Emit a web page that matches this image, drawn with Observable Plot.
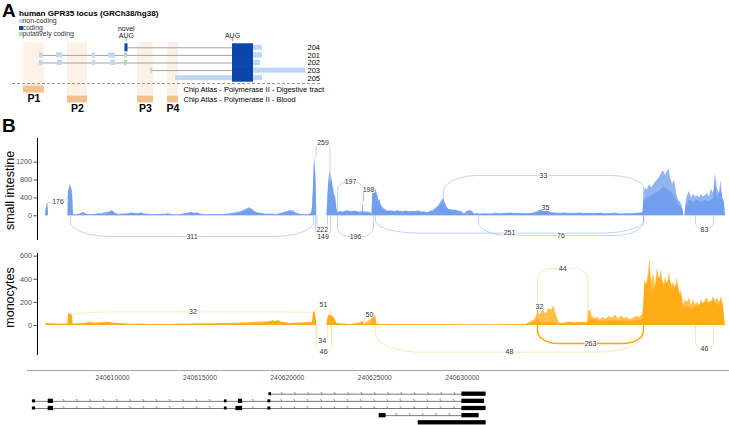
<!DOCTYPE html>
<html><head><meta charset="utf-8">
<script src="https://cdn.jsdelivr.net/npm/d3@7"></script>
<script src="https://cdn.jsdelivr.net/npm/@observablehq/plot@0.6"></script>
<style>
body{margin:0;background:#fff;font-family:"Liberation Sans",Arial,sans-serif;}
#chart{position:relative;width:729px;height:425px;overflow:hidden;background:#fff;}
#chart svg{position:absolute;left:0;top:0;font-family:"Liberation Sans",Arial,sans-serif;}
.ov{position:absolute;white-space:nowrap;line-height:1;color:#000;}
</style></head><body><div id="chart"></div>
<script>
// ---------------- Panel A data (schematic locus units) ----------------
const panelTitle = "human GPR35 locus (GRCh38/hg38)";
const legendKinds = ["non-coding", "coding", "putatively coding"];
const txIds = ["204", "201", "202", "203", "205"];
const txExons = [
  {tx:"204", start:124.5, end:127.5, kind:"coding"},
  {tx:"204", start:232, end:253, kind:"coding"},
  {tx:"204", start:253, end:262, kind:"noncoding"},
  {tx:"201", start:39, end:42.5, kind:"noncoding"},
  {tx:"201", start:56, end:62, kind:"noncoding"},
  {tx:"201", start:92, end:95, kind:"noncoding"},
  {tx:"201", start:108, end:115, kind:"noncoding"},
  {tx:"201", start:124, end:127, kind:"putative"},
  {tx:"201", start:232, end:253, kind:"coding"},
  {tx:"201", start:253, end:262, kind:"noncoding"},
  {tx:"202", start:39, end:42.5, kind:"noncoding"},
  {tx:"202", start:57, end:62, kind:"noncoding"},
  {tx:"202", start:92, end:95, kind:"noncoding"},
  {tx:"202", start:110, end:115, kind:"noncoding"},
  {tx:"202", start:124, end:127, kind:"putative"},
  {tx:"202", start:232, end:253, kind:"coding"},
  {tx:"202", start:253, end:260, kind:"noncoding"},
  {tx:"203", start:150, end:152.5, kind:"noncoding"},
  {tx:"203", start:232, end:253, kind:"coding"},
  {tx:"203", start:253, end:305, kind:"noncoding"},
  {tx:"205", start:175, end:232, kind:"noncoding"},
  {tx:"205", start:232, end:253, kind:"coding"},
  {tx:"205", start:253, end:262, kind:"noncoding"}
];
const augSites = [{label:"novel\nAUG", pos:125.8, kind:"novel"}, {label:"AUG", pos:232, kind:"annotated"}];
const chipTracks = ["Digestive tract", "Blood"];
const promoters = [
  {name:"P1", start:23, end:44, track:"Digestive tract"},
  {name:"P2", start:67, end:87, track:"Blood"},
  {name:"P3", start:137, end:153, track:"Blood"},
  {name:"P4", start:167, end:178, track:"Blood"}
];

// ---------------- Panel B data ----------------
const regionStart = 240605500, binSize = 40;   // coverage bins of 40 bp
const siRep1 = [[0,0],[0.5,150],[1.5,250],[2.5,280],[3,0],[22.5,0],[23,550],[24,650],[25,700],[26,620],[27,560],[27.5,300],[28,30],[31,20],[35,40],[38,80],[40,40],[45,20],[50,30],[54,50],[57,20],[62,40],[67,120],[69,60],[73,30],[77,40],[81,30],[86,70],[89,50],[92,30],[96,70],[99,40],[105,30],[110,20],[115,30],[120,20],[123,50],[126,20],[131,20],[137,30],[143,60],[146,80],[149,50],[152,70],[155,30],[161,20],[165,30],[171,20],[177,30],[183,40],[189,60],[195,90],[198,120],[201,150],[204,180],[207,140],[210,90],[213,60],[217,50],[221,30],[225,40],[231,30],[237,60],[241,90],[245,120],[248,110],[251,60],[255,30],[260,20],[264,30],[266,50],[267,200],[268,700],[269,1300],[270,1100],[270.8,800],[271.3,0],[281.5,0],[282,300],[283,700],[284,950],[285,1000],[286,800],[286.5,900],[287,600],[288,700],[289,400],[290,500],[291,200],[292,80],[295,100],[298,80],[301,120],[304,100],[307,90],[310,110],[313,80],[315,70],[317,100],[317.5,330],[318,100],[320,80],[323,90],[325,70],[326.5,50],[327.5,600],[328.5,650],[329.5,560],[330.5,620],[331.5,500],[332.5,450],[333.5,300],[334.5,380],[335.5,250],[337,200],[339,150],[341,130],[343,100],[346,110],[349,90],[352,120],[355,100],[358,90],[361,110],[364,80],[367,100],[370,90],[373,110],[376,80],[379,90],[382,70],[385,100],[388,120],[391,180],[394,250],[396,330],[398,390],[400,280],[402,180],[404,130],[407,120],[410,130],[413,110],[416,100],[419,40],[421,90],[424,120],[427,100],[429,40],[432,50],[435,40],[440,50],[445,40],[450,60],[455,40],[460,50],[465,60],[470,40],[475,50],[480,40],[485,50],[490,40],[493,60],[496,120],[498,180],[500,120],[503,90],[506,70],[510,50],[515,40],[520,60],[525,40],[530,50],[535,60],[540,40],[545,50],[550,40],[555,60],[560,40],[565,50],[570,60],[575,40],[580,50],[585,40],[590,50],[595,60],[597.5,80],[598.5,500],[600,620],[602,580],[604,700],[606,620],[608,680],[610,750],[612,800],[614,850],[616,950],[618,1010],[620,900],[622,1000],[623.5,1040],[625,850],[627,700],[629,800],[631,500],[633,350],[635,300],[637,200],[638.5,0],[639.5,0],[640.5,300],[642,450],[644,550],[646,400],[648,480],[650,420],[652,450],[654,400],[656,480],[658,420],[660,460],[662,500],[664,420],[666,600],[668,500],[670,940],[672,600],[674,500],[675.5,800],[677,400],[679,300],[680,0]];
const siRep2 = [[0,0],[1,150],[2.5,200],[3,0],[22.5,0],[23,450],[24,600],[25,650],[26,550],[27,450],[28,20],[35,30],[38,60],[43,20],[54,40],[67,100],[73,20],[86,50],[96,50],[105,20],[123,40],[131,15],[146,60],[152,50],[161,15],[183,30],[195,70],[201,120],[204,150],[210,70],[217,40],[231,20],[241,70],[245,100],[251,40],[260,15],[266,40],[267,150],[268,600],[269,1200],[270,900],[271,0],[281.5,0],[282,200],[283,600],[284,850],[285,700],[286.5,800],[288,550],[290,400],[292,60],[301,90],[310,90],[317,80],[317.5,300],[318,80],[326.5,40],[327.5,550],[328.5,600],[330.5,560],[332.5,380],[334.5,300],[337,150],[341,100],[352,90],[361,90],[373,90],[382,60],[388,100],[394,200],[398,330],[402,150],[410,110],[419,30],[424,100],[429,30],[445,30],[465,50],[485,40],[498,150],[506,60],[535,50],[555,50],[575,30],[595,50],[597.5,60],[598.5,350],[602,400],[606,450],[610,500],[614,550],[618,650],[622,600],[625,550],[629,450],[633,250],[637,150],[638.5,0],[639.5,0],[640.5,200],[644,350],[648,300],[652,350],[656,300],[660,350],[664,300],[668,400],[670,700],[672,400],[675.5,600],[679,200],[680,0]];
const monoRep1 = [[0,0],[0.5,12],[2,22],[4,10],[10,12],[15,10],[20,12],[22.5,15],[23,100],[24,110],[25,95],[26,105],[27,80],[27.5,10],[31,12],[35,15],[40,20],[43,25],[46,30],[49,15],[55,18],[60,25],[63,30],[67,20],[71,15],[75,12],[85,10],[95,12],[105,8],[115,10],[125,8],[135,12],[145,10],[155,15],[165,12],[175,15],[180,20],[185,15],[195,12],[205,15],[215,20],[223,25],[228,45],[230,30],[233,45],[236,25],[240,20],[245,18],[250,20],[255,22],[260,20],[265,25],[267,30],[268,110],[269,130],[270,100],[270.8,60],[271.3,0],[281.5,0],[282,50],[283,80],[284,95],[285,85],[286,90],[287,70],[288,85],[289,60],[290,50],[291,20],[295,10],[300,12],[305,8],[310,10],[315,12],[317.5,40],[318.5,10],[323,8],[326,10],[327.5,80],[328.5,87],[329.5,85],[330.5,70],[331.5,10],[335,8],[345,10],[355,6],[365,8],[375,6],[385,8],[395,6],[405,8],[415,5],[425,6],[435,5],[445,6],[455,5],[465,6],[475,8],[481,10],[485,30],[488,45],[490,60],[491.5,100],[492.5,130],[494,90],[496,110],[498,140],[500,100],[502,120],[504,150],[506,130],[508,170],[510,120],[512,60],[514,20],[517,15],[521,25],[525,30],[529,20],[533,25],[537,30],[540,20],[542,30],[543,120],[545,130],[547,80],[549,60],[552,70],[555,50],[558,70],[561,55],[564,80],[567,60],[570,90],[573,55],[576,80],[579,60],[582,70],[585,50],[588,60],[591,80],[594,70],[597,90],[598,150],[599.5,400],[601,350],[603,450],[604.5,577],[606,380],[608,450],[610,350],[612,500],[614,400],[616,480],[618,330],[620,420],[622,350],[624,470],[626,300],[628,380],[630,320],[632,420],[634,260],[636,300],[638,180],[640,220],[642,200],[644,240],[646,170],[648,220],[650,180],[652,200],[654,160],[656,230],[658,180],[660,220],[662,240],[664,180],[666,200],[668,250],[670,210],[672,240],[674,200],[676,250],[678,180],[679.5,30],[680,0]];
const monoRep2 = [[0,0],[0.5,8],[2,18],[10,10],[22.5,10],[23,90],[25,90],[27,70],[27.5,8],[43,20],[63,25],[85,8],[125,6],[180,15],[228,35],[233,35],[245,15],[267,25],[268,100],[269,120],[270.8,50],[271.3,0],[281.5,0],[282,40],[284,85],[286,80],[288,70],[290,40],[291,15],[305,6],[317.5,30],[318.5,8],[327.5,70],[329.5,80],[331.5,8],[375,5],[455,4],[481,8],[490,30],[492,60],[495,30],[500,20],[505,30],[512,15],[525,20],[542,25],[545,60],[555,35],[570,40],[585,35],[597,50],[598,120],[599.5,350],[603,380],[604.5,500],[606,300],[610,320],[612,420],[616,400],[620,350],[624,400],[628,320],[632,350],[636,250],[638,150],[642,170],[646,140],[650,160],[656,190],[662,200],[668,210],[674,170],[676,210],[678,150],[679.5,20],[680,0]];

// splice junctions: genomic start/end, read count, apex value, attachment values
const siJunctions = [
  {start:240605580, end:240606420, count:176, peak:310, y0s:280, y0e:550},
  {start:240606500, end:240616220, count:311, peak:-463},
  {start:240616320, end:240616880, count:259, peak:1640, y0s:1300, y0e:1000},
  {start:240616360, end:240616780, count:222, peak:-306},
  {start:240616300, end:240616900, count:149, peak:-463},
  {start:240617180, end:240618620, count:196, peak:-463},
  {start:240617180, end:240618220, count:197, peak:752, y0s:80, y0e:330},
  {start:240618220, end:240618620, count:198, peak:588, y0s:330, y0e:600},
  {start:240621420, end:240629420, count:33, peak:902, y0s:390, y0e:500},
  {start:240625460, end:240625540, count:35, peak:186, y0s:150, y0e:150},
  {start:240618700, end:240629420, count:251, peak:-389},
  {start:240622820, end:240629420, count:76, peak:-441},
  {start:240631500, end:240632220, count:83, peak:-306}
];
const monoJunctions = [
  {start:240606580, end:240616220, count:32, peak:117, y0s:80, y0e:110},
  {start:240616340, end:240616900, count:51, peak:177, y0s:110, y0e:85},
  {start:240616360, end:240616780, count:34, peak:-130},
  {start:240616320, end:240616940, count:46, peak:-231},
  {start:240618260, end:240618660, count:50, peak:95, y0s:30, y0e:80},
  {start:240618700, end:240629420, count:48, peak:-231},
  {start:240625180, end:240629420, count:263, peak:-156},
  {start:240625180, end:240627200, count:44, peak:491, y0s:100, y0e:60},
  {start:240625180, end:240625340, count:32, peak:164, y0s:130, y0e:130},
  {start:240631500, end:240632220, count:46, peak:-199}
];
const siTicks = [0, 400, 800, 1200];
const monoTicks = [0, 200, 400, 600];
const axisTicks = [240610000, 240615000, 240620000, 240625000, 240630000];
const geneExons = [
  {tx:1, start:240618979, end:240619065, type:"utr"},
  {tx:1, start:240630017, end:240631332, type:"cds"},
  {tx:2, start:240605453, end:240605568, type:"utr"},
  {tx:2, start:240606357, end:240606586, type:"cds"},
  {tx:2, start:240616434, end:240616520, type:"utr"},
  {tx:2, start:240617235, end:240617406, type:"cds"},
  {tx:2, start:240618922, end:240619025, type:"utr"},
  {tx:2, start:240630017, end:240631246, type:"cds"},
  {tx:3, start:240605453, end:240605568, type:"utr"},
  {tx:3, start:240606357, end:240606586, type:"cds"},
  {tx:3, start:240616434, end:240616520, type:"utr"},
  {tx:3, start:240617092, end:240617406, type:"cds"},
  {tx:3, start:240618922, end:240619025, type:"utr"},
  {tx:3, start:240630017, end:240631332, type:"cds"},
  {tx:4, start:240625287, end:240625613, type:"cds"},
  {tx:4, start:240630017, end:240630932, type:"cds"},
  {tx:5, start:240627517, end:240631332, type:"cds"}
];

// ---------------- rendering ----------------
const chart = document.getElementById("chart");
function add(node){ chart.appendChild(node); return node; }
function ov(text, left, top, css){ const d=document.createElement("div"); d.className="ov"; d.textContent=text; d.style.left=left+"px"; d.style.top=top+"px"; Object.assign(d.style, css||{}); chart.appendChild(d); return d; }
const kindColor = {noncoding:"#bdd7f6", coding:"#0b47a8", putative:"#a9dbb5"};
const legendColor = {"non-coding":kindColor.noncoding, "coding":kindColor.coding, "putatively coding":kindColor.putative};
const augColor = {novel:"#9fd5a8", annotated:"#f29a9a"};
const common = {width:729, height:425, style:{background:"transparent", overflow:"visible"}};

// Panel A
const rowOf = new Map(txIds.map((d,i)=>[d,i]));
const chipRow = new Map([["Digestive tract",5.5],["Blood",6.8]]);
const hh = {coding:0.53, noncoding:0.33, putative:0.33};
const spans = d3.rollups(txExons, v=>[d3.min(v,d=>d.start), d3.max(v,d=>d.end)], d=>d.tx).map(([tx,[a,b]])=>({tx,a,b}));
const txEnd = d3.max(txExons, d=>d.end);
add(Plot.plot({...common, margin:0,
  x:{domain:[0,729], range:[0,729], axis:null},
  y:{domain:[0,4], range:[47.3,77.7], axis:null},
  marks:[
    Plot.rect(promoters,{x1:"start",x2:"end",y1:-0.7,y2:d=>chipRow.get(d.track)-0.45,fill:"#fdf0e4"}),
    Plot.rect(promoters,{x1:"start",x2:"end",y1:d=>chipRow.get(d.track)-0.45,y2:d=>chipRow.get(d.track)+0.45,fill:"#f2c18e"}),
    Plot.text(promoters,{x:d=>(d.start+d.end)/2,y:d=>chipRow.get(d.track)+1.25,text:"name",fontWeight:"bold",fontSize:10.5,fill:"#000"}),
    Plot.text(chipTracks,{x:d3.max(promoters,d=>d.end)+5,y:d=>chipRow.get(d),text:d=>`Chip Atlas - Polymerase II - ${d}`,textAnchor:"start",fontSize:7.5,fill:"#000"}),
    Plot.ruleY([4.7],{x1:12,x2:322,stroke:"#9a9a9a",strokeDasharray:"3,2"}),
    Plot.ruleY(spans,{y:d=>rowOf.get(d.tx),x1:"a",x2:"b",stroke:"#a3a3a3",strokeWidth:1}),
    Plot.rect(txExons,{x1:"start",x2:"end",y1:d=>rowOf.get(d.tx)-hh[d.kind],y2:d=>rowOf.get(d.tx)+hh[d.kind],fill:d=>kindColor[d.kind]}),
    Plot.ruleX(augSites,{x:"pos",y1:-1.22,y2:-0.8,stroke:d=>augColor[d.kind],strokeWidth:1.6}),
    Plot.text(augSites,{x:"pos",y:-1.3,text:"label",lineAnchor:"bottom",lineHeight:1.05,fontSize:7,fill:"#222"}),
    Plot.text(txIds,{x:txEnd+2,y:d=>rowOf.get(d),text:d=>d,textAnchor:"start",fontSize:7.5,fill:"#000"})
  ]}));
ov("A", 2, 1, {fontWeight:"bold", fontSize:"19px"});
ov(panelTitle, 19, 9.5, {fontWeight:"bold", fontSize:"8.1px"});
legendKinds.forEach((k,i)=>{
  const sq=document.createElement("div"); sq.className="ov";
  Object.assign(sq.style,{left:"19px",top:(19.4+i*6.35)+"px",width:"3.5px",height:"4px",background:legendColor[k]});
  chart.appendChild(sq);
  ov(k, 22.5, 18.4+i*6.35, {fontSize:"6.9px", color:"#333", lineHeight:"6px"});
});
ov("B", 2, 116, {fontWeight:"bold", fontSize:"19px"});

// arcs: rounded-box splice arcs (vertical sides, elliptical corners, flat apex)
const covDomain = [240605180, 240632700];
const pxPerBp = (729 - 4 - 37) / (covDomain[1] - covDomain[0]);
function arcPoints(js, pxPerUnit){
  const pts=[];
  js.forEach((j,i)=>{
    const a=j.y0s??0, b=j.y0e??0, c=j.peak, w=j.end-j.start;
    const rx=Math.min(w/2, 0.15*w+200), rxp=rx*pxPerBp;
    const ryL=Math.min(rxp, 0.7*Math.abs(c-a)*pxPerUnit)/pxPerUnit;
    const ryR=Math.min(rxp, 0.7*Math.abs(c-b)*pxPerUnit)/pxPerUnit;
    const sL=c>=a?1:-1, sR=c>=b?1:-1;
    const push=(x,y)=>pts.push({id:i,count:j.count,x,y});
    push(j.start,a);
    for(let k=0;k<=12;k++){const t=k/12*Math.PI/2; push(j.start+rx*(1-Math.cos(t)), c-sL*ryL*(1-Math.sin(t)));}
    for(let k=12;k>=0;k--){const t=k/12*Math.PI/2; push(j.end-rx*(1-Math.cos(t)), c-sR*ryR*(1-Math.sin(t)));}
    push(j.end,b);
  });
  return pts;
}
const covX = d => regionStart + d[0]*binSize;

function coveragePlot(rep1, rep2, junctions, ticks, label, color, top, bottom, ydom, arcStroke, arcOpacity, labelDy){
  const pxPerUnit = (bottom-top)/(ydom[1]-ydom[0]);
  return Plot.plot({...common, marginLeft:37, marginRight:4, marginTop:top, marginBottom:425-bottom,
    x:{domain:covDomain, axis:null},
    y:{domain:ydom, axis:null},
    marks:[
      Plot.areaY(rep1,{x:covX,y:d=>d[1],fill:color,fillOpacity:0.7}),
      Plot.areaY(rep2,{x:covX,y:d=>d[1],fill:color,fillOpacity:0.7}),
      Plot.line(arcPoints(junctions, pxPerUnit),{x:"x",y:"y",z:"id",stroke:arcStroke,strokeOpacity:arcOpacity,strokeWidth:d=>d.count>=250&&color==="#FFA500"?1.4:0.9}),
      Plot.text(junctions,{x:d=>(d.start+d.end)/2,y:"peak",text:d=>String(d.count),fontSize:7,fill:"#333",stroke:"white",strokeWidth:2}),
      Plot.ruleX([covDomain[0]],{stroke:"#000",strokeWidth:1}),
      Plot.axisY({ticks, tickSize:3.5, tickPadding:2, fontSize:7.2, tickFormat:"d", label:null, color:"#4d4d4d"}),
      Plot.text([label],{frameAnchor:"left",textAnchor:"middle",rotate:-90,dx:-28,dy:labelDy,fontSize:12.5,fill:"#000"})
    ]});
}
add(coveragePlot(siRep1, siRep2, siJunctions, siTicks, "small intestine", "#6495ED", 138, 240, [-553,1729], "#6495ED", 0.45, 1));
add(coveragePlot(monoRep1, monoRep2, monoJunctions, monoTicks, "monocytes", "#FFA500", 253, 355, [-260,623], "#FFA500", d=>Math.min(1,0.2+0.8*d.count/263), -7));

// genomic axis
const geneDomain = [240605139, 240645286];
add(Plot.plot({...common, marginLeft:27, marginRight:0, marginTop:0, marginBottom:55,
  x:{domain:geneDomain, axis:null}, y:{domain:[0,1], axis:null},
  marks:[
    Plot.ruleY([0],{stroke:"#a8a8a8",strokeWidth:1.2}),
    Plot.axisX({ticks:axisTicks, tickSize:0, tickPadding:5, fontSize:6.8, tickFormat:"d", label:null, color:"#4d4d4d"})
  ]}));

// gene models
const txGroups = d3.groups(geneExons, d=>d.tx);
const geneSpans = txGroups.map(([tx,v])=>({tx, a:d3.min(v,d=>d.start), b:d3.max(v,d=>d.end)}));
const arrows = [];
txGroups.forEach(([tx,v])=>{
  const s = v.slice().sort((p,q)=>p.start-q.start);
  for(let i=1;i<s.length;i++){
    const a=s[i-1].end, b=s[i].start, step=760;
    for(let p=a+step*0.8; p<b-step*0.4; p+=step) arrows.push({tx, x:p});
  }
});
const gh = {utr:0.21, cds:0.3};
add(Plot.plot({...common, margin:0,
  x:{domain:geneDomain, range:[27,729], axis:null},
  y:{domain:[1,5], range:[393.7,422.3], axis:null},
  marks:[
    Plot.ruleY(geneSpans,{y:"tx",x1:"a",x2:"b",stroke:"#7a7a7a",strokeWidth:1}),
    Plot.text(arrows,{x:"x",y:"tx",text:()=>"›",fontSize:7,fill:"#666",dy:-0.5}),
    Plot.rect(geneExons,{x1:"start",x2:"end",y1:d=>d.tx-gh[d.type],y2:d=>d.tx+gh[d.type],fill:"#000",insetLeft:-0.6,insetRight:-0.6})
  ]}));
</script></body></html>
